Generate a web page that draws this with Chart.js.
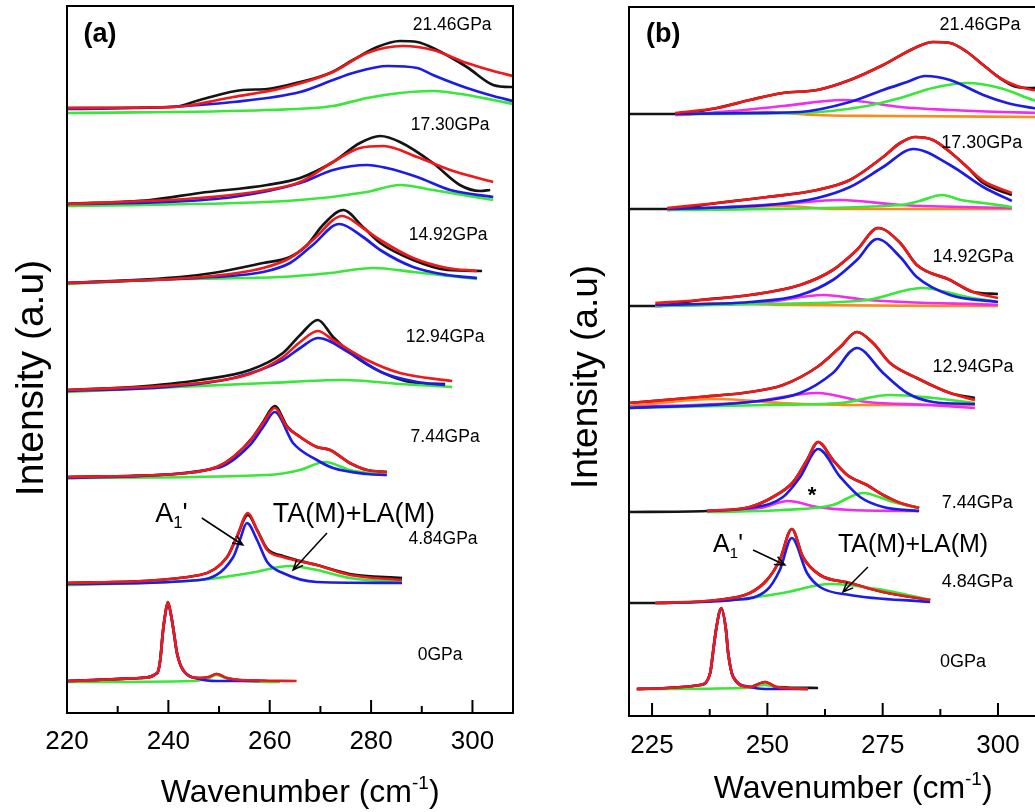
<!DOCTYPE html>
<html>
<head>
<meta charset="utf-8">
<script src="https://cdn.jsdelivr.net/npm/chart.js@4.4.1/dist/chart.umd.min.js"></script>
<style>
  html, body { margin: 0; padding: 0; background: #fff; overflow: hidden; width: 1035px; height: 812px; }
  #wrapA { position: absolute; left: 0; top: 0; width: 520px; height: 812px; }
  #wrapB { position: absolute; left: 520px; top: 0; width: 530px; height: 812px; }
</style>
</head>
<body>
<div id="wrapA"><canvas id="chartA" width="520" height="812"></canvas></div>
<div id="wrapB"><canvas id="chartB" width="530" height="812"></canvas></div>
<script>
// pressures, top to bottom
const pressures = ["21.46GPa", "17.30GPa", "14.92GPa", "12.94GPa", "7.44GPa", "4.84GPa", "0GPa"];

// vertical stacking offsets (a.u.)
const offsetsA = [602, 508, 430, 323, 236, 129, 32];
const offsetsB = [602, 507, 410, 308, 205, 113, 27];

// x tick labels
const ticksA = [220, 240, 260, 280, 300];
const minorA = [230, 250, 270, 290];
const ticksB = [225, 250, 275, 300];
const minorB = [237.5, 262.5, 287.5];

// label positions [wavenumber, intensity]
const namePosA = [[296.0, 688], [295.6, 588], [295.2, 478], [294.6, 376], [294.6, 276], [294.2, 174], [293.6, 58]];
const namePosB = [[296.1, 691], [296.5, 573], [294.6, 459], [294.6, 349], [295.5, 213], [295.5, 134], [292.4, 54]];

// ---- panel (a): [wavenumber, intensity above baseline] ----
const a2146Black = [[220,3],[240.9,4],[246.2,11],[254.7,21],[259.5,22],[266,29],[271.9,38],[276.4,51],[281.2,64],[285.7,70],[289.1,69],[293,61],[298.9,44],[304.1,26],[307.4,24],[308,24]];
const a2146Red = [[220,3],[240.9,4],[252.8,14],[262.6,23],[272.5,39],[279.2,58],[286.3,65],[292.2,61],[298.9,48],[304.1,40],[308,35]];
const a2146Blue = [[220,2],[239.7,4],[252.8,9],[266,19],[272.5,31],[276.4,38],[283.3,45],[289.1,43],[292.2,36],[298.9,23],[304.1,15],[308,10]];
const a2146Green = [[220,-2],[259.5,1],[272.5,5],[279.2,13],[285.7,18],[292.2,20],[298.9,16],[304.1,11],[308,7]];

const a1730Black = [[220,1],[236.4,5],[246.2,12],[259.5,20],[266,27],[272.5,43],[277.8,62],[281.8,69],[285.7,63],[292.2,42],[297.5,20],[301.5,14],[303.5,15]];
const a1730Red = [[220,1],[246.2,7],[259.5,15],[266,23],[272.5,43],[277.8,57],[282.4,59],[289.1,48],[295.6,35],[304.1,23]];
const a1730Blue = [[220,1],[239.7,3],[252.8,8],[266,22],[272.5,35],[279.2,40],[283.1,37],[289.1,28],[295.6,15],[304.1,8]];
const a1730Green = [[220,-1],[266,5],[279.2,13],[285.7,20],[292.2,15],[304.1,5]];

const a1492Black = [[220,0],[242.3,6],[248.8,10],[258.7,20],[264,26],[267.4,38],[270.5,58],[274.5,73],[278.4,56],[281.8,40],[288.3,23],[295,13],[301.9,12]];
const a1492Red = [[220,0],[248.8,7],[258.7,15],[264,25],[268.5,43],[274.3,67],[278.4,55],[281.8,43],[288.3,25],[295,15],[300.9,12]];
const a1492Blue = [[220,0],[248.8,6],[258.7,11],[264,20],[268.5,38],[273.7,59],[278.4,46],[281.8,33],[288.3,16],[295,8],[300.9,5]];
const a1492Green = [[220,-1],[242.3,4],[262,6],[271.9,10],[280.4,15],[288.3,11],[300.9,4]];

const a1294Black = [[220,0],[233,3],[246.2,10],[256.1,20],[262.6,37],[266,55],[269.5,70],[272.5,53],[277.8,30],[284.3,13],[289.1,7],[294.6,6]];
const a1294Red = [[220,0],[246.2,7],[256.1,16],[262.6,33],[266,48],[269.5,59],[272.5,50],[279.2,30],[285.7,17],[296,9]];
const a1294Blue = [[220,-1],[239.7,3],[252.8,12],[262.6,30],[266,42],[269.5,52],[275.8,37],[282.4,17],[289.1,8],[294.6,5]];
const a1294Green = [[220,-2],[259.5,7],[274.5,10],[285.7,6],[296,3]];

const a744Black = [[220,0],[243.7,4],[249.6,10],[252.8,20],[256.7,40],[258.7,55],[261,71],[263.4,51],[266,40],[269.3,30],[271.9,27],[275.8,14],[279.2,7],[283.1,5]];
const a744Red = [[220,0],[243.7,4],[249.6,10],[252.8,20],[256.7,40],[258.7,54],[261,69],[263.4,50],[266,40],[269.3,30],[271.9,27],[275.8,14],[279.2,7],[283.1,5]];
const a744Blue = [[220,-1],[249.6,9],[256.1,32],[258.7,50],[261,65],[264.6,34],[269.3,17],[272.5,9],[279.2,3],[283.1,2]];
const a744Green = [[220,-1],[259.5,2],[266,7],[270.9,15],[275.8,7],[283.1,2]];

const a484Black = [[220,1],[246.2,9],[251.6,27],[253.5,47],[255.7,69],[257.5,54],[259.5,35],[262.6,28],[269.3,19],[275.8,10],[286.1,6]];
const a484Red = [[220,1],[246.2,9],[251.6,27],[253.5,47],[255.7,71],[257.5,54],[259.5,34],[262.6,27],[269.3,19],[275.8,9],[286.1,4]];
const a484Blue = [[220,0],[246.2,4],[252.8,27],[254.1,44],[255.5,61],[257.5,44],[259.5,22],[262.6,11],[269.3,2],[286.1,1]];
const a484Green = [[220,-1],[246.2,4],[256.1,11],[264,18],[269.3,14],[275.8,6],[286.1,2]];

const a0Black = [[220,0],[234.4,3],[237.8,8],[238.4,21],[238.9,48],[239.3,64],[239.9,79],[240.6,64],[241.1,48],[241.7,28],[242.9,11],[246.2,3],[248,4],[249.5,7],[251.5,3],[254,1],[259.5,0]];
const a0Red = [[220,0],[234.4,3],[237.8,8],[238.4,21],[238.9,48],[239.3,64],[239.9,79],[240.6,64],[241.1,48],[241.7,28],[242.9,11],[246.2,3],[248,4],[249.5,7],[251.5,3],[254,1],[265.3,0]];
const a0Blue = [[220,0],[234.4,3],[237.8,8],[238.4,21],[238.9,48],[239.3,64],[239.9,78],[240.6,64],[241.1,48],[241.7,28],[242.9,11],[246.2,2],[249.5,0],[254,0],[258,0]];
const a0Green = [[220,-1],[245,0],[248,3],[249.5,6],[251.5,3],[255,0],[262,-1]];

// ---- panel (b) ----
const b2146Black = [[220,0],[229.6,0],[239.1,6],[246.2,14],[253.4,21],[260.8,24],[267.9,34],[275.1,49],[282.4,67],[285.9,72],[289.6,71],[293.3,62],[296.8,49],[300.4,36],[304.1,27],[307.6,26],[309,27]];
const b2146Red = [[230,1],[239.1,6],[246.2,14],[253.4,21],[260.8,24],[267.9,34],[275.1,49],[282.4,67],[285.9,72],[289.6,71],[293.3,62],[296.8,49],[300.4,36],[304.1,28],[307.6,24],[309,23]];
const b2146Blue = [[230,0],[248,1],[257.1,2],[267.9,12],[275.1,24],[280.3,32],[284.2,38],[289.6,34],[296.8,19],[302,11],[307.6,6],[309,5]];
const b2146Green = [[230,0],[257.1,1],[271.6,8],[278.8,16],[285.9,26],[293.3,31],[300.4,26],[307.6,14],[309,12]];
const b2146Magenta = [[230,-1],[242.6,3],[253.4,8],[266.4,14],[278.8,7],[289.6,4],[300.4,2],[309,1]];
const b2146Orange = [[230,-1],[240,1],[250,2],[260.8,-1],[275,-2],[309,-3]];

const b1730Black = [[220,0],[228.3,0],[239.1,6],[250,12],[260.8,19],[267.9,29],[275.1,52],[278.8,66],[282,72],[285.9,69],[289.6,57],[293.3,42],[296.8,26],[303,14]];
const b1730Red = [[228.3,1],[239.1,6],[250,12],[260.8,19],[267.9,29],[275.1,52],[278.8,66],[282,72],[285.9,69],[289.6,57],[293.3,42],[296.8,28],[303,16]];
const b1730Blue = [[228.3,0],[250,4],[260.8,11],[267.9,22],[275.1,42],[281.6,60],[289.6,44],[296.8,22],[303,8]];
const b1730Green = [[228.3,-1],[278.8,4],[283,8],[287.9,14],[292,9],[296.8,6],[303,2]];
const b1730Magenta = [[228.3,-1],[253.4,5],[265.8,9],[278.8,4],[303,1]];
const b1730Orange = [[228.3,-1],[245,2],[253.4,3],[265,0],[303,0]];

const b1492Black = [[220,0],[225.7,0],[235.4,6],[246.2,11],[257.1,21],[264.2,36],[269.4,56],[274,78],[278.8,63],[282.4,41],[289.6,26],[294.6,14],[300,12]];
const b1492Red = [[225.7,3],[235.4,6],[246.2,11],[257.1,21],[264.2,36],[269.4,56],[274,78],[278.8,63],[282.4,41],[289.6,26],[294.6,14],[300,8]];
const b1492Blue = [[225.7,1],[246.2,4],[257.1,11],[264.2,26],[269.4,46],[273.8,67],[278.8,49],[282.4,29],[289.6,11],[300,4]];
const b1492Green = [[225.7,0],[250,2],[271.6,6],[283.5,18],[293.3,9],[300,4]];
const b1492Magenta = [[225.7,0],[249.9,4],[262.1,11],[271.6,6],[300,1]];
const b1492Orange = [[225.7,0],[240,3],[255,1],[300,0]];

const b1294Black = [[220,5],[235.4,11],[246.2,16],[253.4,23],[260.8,41],[265.8,61],[269.4,76],[272.9,65],[276.6,45],[282.4,30],[289.6,15],[295,10]];
const b1294Red = [[220,5],[235.4,11],[246.2,16],[253.4,23],[260.8,41],[265.8,61],[269.4,76],[272.9,65],[276.6,45],[282.4,30],[289.6,15],[295,8]];
const b1294Blue = [[220,0],[246.2,6],[257.1,15],[264.2,35],[269.4,60],[275.1,35],[280.3,15],[285.9,6],[295,4]];
const b1294Green = [[220,0],[250,3],[265.8,5],[276.6,13],[285.9,10],[295,5]];
const b1294Magenta = [[220,1],[246.2,6],[260.8,15],[271.6,6],[285,3],[295,0]];
const b1294Orange = [[220,2],[239.1,9],[253,5],[270,3],[295,3]];

const b744Black = [[220,-1],[236.9,0],[246.2,4],[251.2,14],[255.6,29],[258.6,51],[261,69],[264.2,51],[267.3,36],[271.6,26],[275.1,16],[278.8,8],[282.9,3]];
const b744Red = [[236.9,0],[246.2,4],[251.2,14],[255.6,29],[258.6,51],[261,69],[264.2,51],[267.3,36],[271.6,26],[275.1,16],[278.8,8],[282.9,3]];
const b744Blue = [[236.9,0],[246.2,3],[253.4,14],[257.1,34],[261,62],[265.8,34],[270.1,14],[275.1,4],[282.9,0]];
const b744Green = [[236.9,-1],[253.4,1],[264.2,6],[270.7,18],[277.2,9],[282.9,3]];
const b744Magenta = [[236.9,0],[248.4,3],[254.5,10],[260.8,4],[267.9,1],[282.9,0]];

const b484Black = [[220,0],[225.7,0],[239.1,3],[246.2,10],[249.9,23],[252.7,43],[255.3,74],[257.7,46],[261.4,28],[267.9,20],[275.1,11],[285.3,3]];
const b484Red = [[225.7,0],[239.1,3],[246.2,10],[249.9,23],[252.7,43],[255.3,74],[257.7,46],[261.4,28],[267.9,20],[275.1,11],[285.3,3]];
const b484Blue = [[225.7,0],[242.6,3],[249.9,13],[252.7,33],[255.3,65],[258.6,30],[261.4,16],[267.9,8],[285.3,1]];
const b484Green = [[225.7,0],[242.6,3],[253.4,10],[263.6,19],[275.1,13],[285.3,3]];

const b0Black = [[221.7,0],[235.4,4],[237.6,16],[238.2,36],[238.9,60],[240,81],[241,60],[241.5,36],[242.6,12],[246.2,2],[249.5,7],[252,2],[261,1]];
const b0Red = [[221.7,0],[235.4,4],[237.6,16],[238.2,36],[238.9,60],[240,81],[241,60],[241.5,36],[242.6,12],[246.2,2],[249.5,7],[252,2],[258.8,0]];
const b0Blue = [[221.7,0],[235.4,4],[237.6,16],[238.2,36],[238.9,60],[240,80],[241,60],[241.5,36],[242.6,12],[246.2,2],[249.5,0],[258.8,0]];
const b0Green = [[221.7,0],[245,1],[249.5,4],[253,1],[258.8,0]];

const spectraA = [
  { red: a2146Red, blue: a2146Blue, green: a2146Green, black: a2146Black },
  { red: a1730Red, blue: a1730Blue, green: a1730Green, black: a1730Black },
  { red: a1492Red, blue: a1492Blue, green: a1492Green, black: a1492Black },
  { red: a1294Red, blue: a1294Blue, green: a1294Green, black: a1294Black },
  { red: a744Red, blue: a744Blue, green: a744Green, black: a744Black },
  { red: a484Red, blue: a484Blue, green: a484Green, black: a484Black },
  { red: a0Red, blue: a0Blue, green: a0Green, black: a0Black }
];
const spectraB = [
  { red: b2146Red, blue: b2146Blue, green: b2146Green, magenta: b2146Magenta, orange: b2146Orange, black: b2146Black },
  { red: b1730Red, blue: b1730Blue, green: b1730Green, magenta: b1730Magenta, orange: b1730Orange, black: b1730Black },
  { red: b1492Red, blue: b1492Blue, green: b1492Green, magenta: b1492Magenta, orange: b1492Orange, black: b1492Black },
  { red: b1294Red, blue: b1294Blue, green: b1294Green, magenta: b1294Magenta, orange: b1294Orange, black: b1294Black },
  { red: b744Red, blue: b744Blue, green: b744Green, magenta: b744Magenta, black: b744Black },
  { red: b484Red, blue: b484Blue, green: b484Green, black: b484Black },
  { red: b0Red, blue: b0Blue, green: b0Green, black: b0Black }
];

const colors = { red: "#f01818", blue: "#1c1ce8", green: "#38e838", magenta: "#f02cf0", orange: "#ff8a1a", black: "#141414" };
const FONT = "'Liberation Sans', Arial, sans-serif";

function makeSets(spectra, offsets) {
  const sets = [];
  // first dataset ends up on top
  const order = ["red", "blue", "green", "magenta", "orange", "black"];
  spectra.forEach((sp, i) => {
    order.forEach(c => {
      if (!sp[c]) return;
      sets.push({
        data: sp[c].map(p => ({ x: p[0], y: offsets[i] + p[1] })),
        borderColor: colors[c],
        borderWidth: 2.7,
        pointRadius: 0,
        fill: false,
        cubicInterpolationMode: "monotone"
      });
    });
  });
  return sets;
}

function drawRuns(ctx, runs, x0, baseY) {
  // runs: [text, size, dy]
  let x = x0;
  runs.forEach(r => {
    ctx.font = r[1] + "px " + FONT;
    ctx.fillText(r[0], x, baseY + r[2]);
    x += ctx.measureText(r[0]).width;
  });
}

function runsWidth(ctx, runs) {
  let w = 0;
  runs.forEach(r => { ctx.font = r[1] + "px " + FONT; w += ctx.measureText(r[0]).width; });
  return w;
}

function arrow(ctx, x1, y1, x2, y2) {
  const ang = Math.atan2(y2 - y1, x2 - x1);
  const h = 11;
  ctx.beginPath();
  ctx.moveTo(x1, y1);
  ctx.lineTo(x2, y2);
  ctx.moveTo(x2 - h * Math.cos(ang - 0.4), y2 - h * Math.sin(ang - 0.4));
  ctx.lineTo(x2, y2);
  ctx.lineTo(x2 - h * Math.cos(ang + 0.4), y2 - h * Math.sin(ang + 0.4));
  ctx.stroke();
}

const decor = {
  id: "decor",
  afterDraw(chart, args, o) {
    const { ctx, chartArea: a, scales: { x, y } } = chart;
    const px = v => x.getPixelForValue(v);
    const py = v => y.getPixelForValue(v);
    ctx.save();
    ctx.strokeStyle = "#000";
    ctx.lineWidth = 2;
    ctx.strokeRect(a.left, a.top, a.right - a.left, a.bottom - a.top);

    // inward ticks on the bottom axis
    ctx.beginPath();
    o.major.forEach(v => { ctx.moveTo(px(v), a.bottom); ctx.lineTo(px(v), a.bottom - 13); });
    o.minor.forEach(v => { ctx.moveTo(px(v), a.bottom); ctx.lineTo(px(v), a.bottom - 7); });
    ctx.stroke();

    ctx.fillStyle = "#000";
    ctx.textAlign = "center";
    ctx.textBaseline = "middle";
    ctx.font = o.labelSize + "px " + FONT;
    pressures.forEach((n, i) => ctx.fillText(n, px(o.namePos[i][0]), py(o.namePos[i][1])));

    ctx.font = "bold 27px " + FONT;
    ctx.fillText(o.letter, px(o.letterPos[0]), py(o.letterPos[1]));

    // mode annotations
    ctx.textAlign = "left";
    ctx.textBaseline = "alphabetic";
    const s = o.annSize;
    drawRuns(ctx, [["A", s, 0], ["1", s * 0.62, s * 0.22], ["'", s, 0]], px(o.a1Pos[0]), py(o.a1Pos[1]));
    drawRuns(ctx, [["TA(M)+LA(M)", s, 0]], px(o.taPos[0]), py(o.taPos[1]));
    ctx.lineWidth = 1.5;
    o.arrows.forEach(ar => arrow(ctx, px(ar[0]), py(ar[1]), px(ar[2]), py(ar[3])));
    if (o.star) {
      ctx.textAlign = "center";
      ctx.font = "bold 22px " + FONT;
      ctx.fillText("*", px(o.star[0]), py(o.star[1]));
      ctx.textAlign = "left";
    }

    // x title with superscript
    const runs = [["Wavenumber (cm", 32, 0], ["-1", 19, -13], [")", 32, 0]];
    const w = runsWidth(ctx, runs);
    drawRuns(ctx, runs, px(o.xTitleX) - w / 2, a.bottom + o.xTitleDy);

    // y title
    ctx.save();
    ctx.translate(a.left + o.yTitleDx, py(o.yTitleY));
    ctx.rotate(-Math.PI / 2);
    ctx.textAlign = "center";
    ctx.font = o.yTitleSize + "px " + FONT;
    ctx.fillText("Intensity (a.u)", 0, 0);
    ctx.restore();
    ctx.restore();
  }
};

function makeChart(id, cfg) {
  return new Chart(document.getElementById(id), {
    type: "line",
    data: { datasets: makeSets(cfg.spectra, cfg.offsets) },
    options: {
      responsive: false,
      animation: false,
      devicePixelRatio: 1,
      layout: { padding: cfg.padding },
      plugins: { legend: { display: false }, tooltip: { enabled: false }, decor: cfg.decor },
      scales: {
        x: {
          type: "linear",
          min: cfg.xMin,
          max: cfg.xMax,
          afterFit: s => { s.height = cfg.xHeight; },
          afterBuildTicks: s => { s.ticks = cfg.ticks.map(v => ({ value: v })); },
          grid: { display: false },
          border: { display: false },
          ticks: { color: "#000", font: { size: 26, family: FONT }, padding: cfg.tickPad, autoSkip: false, maxRotation: 0 }
        },
        y: { display: false, min: 0, max: cfg.yMax }
      }
    },
    plugins: [decor]
  });
}

makeChart("chartA", {
  spectra: spectraA, offsets: offsetsA, ticks: ticksA,
  xMin: 220, xMax: 308, yMax: 707, xHeight: 99, tickPad: 5,
  padding: { left: 67, right: 7, top: 6, bottom: 0 },
  decor: {
    major: ticksA, minor: minorA, namePos: namePosA, labelSize: 17.5,
    letter: "(a)", letterPos: [226.5, 678],
    annSize: 27, a1Pos: [237.4, 191], taPos: [260.6, 191],
    arrows: [[246.6, 195, 254.7, 168], [271.3, 180, 264.6, 143]],
    star: null,
    xTitleX: 266, xTitleDy: 89,
    yTitleDx: -24, yTitleY: 335, yTitleSize: 39
  }
});

makeChart("chartB", {
  spectra: spectraB, offsets: offsetsB, ticks: ticksB,
  xMin: 220, xMax: 309, yMax: 709, xHeight: 96, tickPad: 6,
  padding: { left: 109, right: 10.5, top: 7, bottom: 0 },
  decor: {
    major: ticksB, minor: minorB, namePos: namePosB, labelSize: 18,
    letter: "(b)", letterPos: [227.4, 681],
    annSize: 25, a1Pos: [238.2, 164], taPos: [265.3, 164],
    arrows: [[246.9, 166, 253.8, 151], [271.8, 149, 266.4, 124]],
    star: [259.7, 214],
    xTitleX: 268.6, xTitleDy: 82,
    yTitleDx: -32, yTitleY: 339, yTitleSize: 37
  }
});
</script>
</body>
</html>
